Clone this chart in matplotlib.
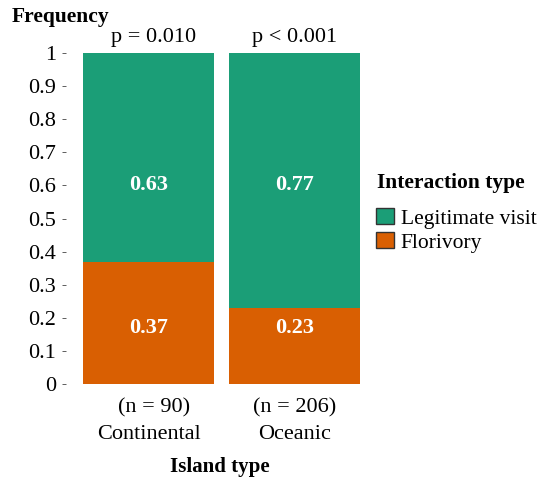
import matplotlib.pyplot as plt
from matplotlib.patches import Patch

plt.rcParams['font.family'] = ['Liberation Serif', 'DejaVu Serif']

islands = ["Continental", "Oceanic"]
n_obs = [90, 206]
florivory = [0.37, 0.23]
legit = [0.63, 0.77]
p_text = ["p = 0.010", "p < 0.001"]
green = "#1b9e77"
orange = "#d95f02"

W, H = 539, 479
fig = plt.figure(figsize=(W / 100, H / 100), dpi=100)
ax = fig.add_axes([66 / W, (H - 384) / H, (377 - 66) / W, (384 - 53) / H])

x = [1, 2]
ax.bar(x, florivory, width=0.9, color=orange)
ax.bar(x, legit, bottom=florivory, width=0.9, color=green)

# small rightward nudge the original has on the first group's annotations
nudge = [0.035, 0.0]
for i in range(2):
    ax.text(x[i], 0.60, f"{legit[i]:.2f}", color="white", fontweight="bold",
            ha="center", va="center", fontsize=16)
    ax.text(x[i], 0.17, f"{florivory[i]:.2f}", color="white", fontweight="bold",
            ha="center", va="center", fontsize=16)
    ax.text(x[i] + nudge[i], 1.048, p_text[i], ha="center", va="center",
            fontsize=16, clip_on=False)
    ax.text(x[i] + nudge[i], -0.072, f"(n = {n_obs[i]})", ha="center",
            va="center", fontsize=16, clip_on=False)
    ax.text(x[i], -0.152, islands[i], ha="center", va="center", fontsize=16,
            clip_on=False)

ax.set_xlim(0.43, 2.57)
ax.set_ylim(0, 1)
ax.set_yticks([i / 10 for i in range(11)])
ax.set_yticklabels(["0"] + [f"0.{i}" for i in range(1, 10)] + ["1"], fontsize=16)
ax.set_xticks([])
ax.tick_params(axis="y", length=3, width=0.6, color="#444444", pad=4)
for s in ax.spines.values():
    s.set_visible(False)

fig.text(12 / W, 1 - 17 / H, "Frequency", fontweight="bold", fontsize=15.5,
         ha="left", va="center")
fig.text(220 / W, 1 - 467 / H, "Island type", fontweight="bold", fontsize=15,
         ha="center", va="center")

fig.text(377 / W, 1 - 183 / H, "Interaction type", fontweight="bold",
         fontsize=15.5, ha="left", va="center")
handles = [Patch(facecolor=green, edgecolor="#333333", label="Legitimate visit"),
           Patch(facecolor=orange, edgecolor="#333333", label="Florivory")]
leg = fig.legend(handles=handles, loc="upper left",
                 bbox_to_anchor=(376 / W, 1 - 208 / H), frameon=False,
                 fontsize=15.5, handlelength=0.85, handleheight=0.8,
                 handletextpad=0.3, labelspacing=0.15, borderpad=0,
                 borderaxespad=0)

fig.savefig("out.png", dpi=100)
